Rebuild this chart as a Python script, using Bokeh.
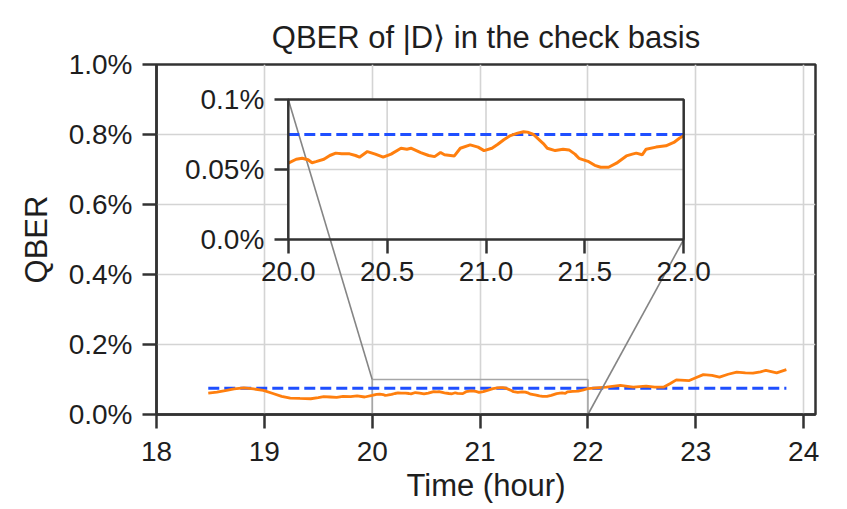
from bokeh.plotting import figure
from bokeh.models import Range1d, LinearAxis, FixedTicker, PrintfTickFormatter
from bokeh.embed import file_html
from bokeh.resources import INLINE

# ---------------- data ----------------
T = [18.48, 18.56, 18.65, 18.72, 18.81, 18.90, 18.99, 19.08, 19.16, 19.24,
     19.33, 19.43, 19.50, 19.55, 19.61, 19.67, 19.73, 19.80, 19.86, 19.93,
     20.00, 20.04, 20.07, 20.10, 20.12, 20.14, 20.18, 20.21, 20.24, 20.27,
     20.31, 20.34, 20.36, 20.40, 20.44, 20.48, 20.52, 20.57, 20.60, 20.62,
     20.67, 20.71, 20.74, 20.77, 20.79, 20.84, 20.87, 20.92, 20.96, 20.99,
     21.03, 21.06, 21.09, 21.12, 21.16, 21.19, 21.21, 21.24, 21.26, 21.29,
     21.31, 21.35, 21.39, 21.42, 21.45, 21.47, 21.52, 21.55, 21.58, 21.62,
     21.66, 21.71, 21.74, 21.76, 21.79, 21.81, 21.86, 21.91, 21.95, 21.98,
     22.00, 22.08, 22.17, 22.30, 22.42, 22.54, 22.62, 22.70, 22.76, 22.82,
     22.94, 23.00, 23.07, 23.15, 23.22, 23.30, 23.38, 23.46, 23.53, 23.60,
     23.65, 23.75, 23.84]
QBER = [0.061, 0.064, 0.069, 0.073, 0.076, 0.073, 0.069, 0.060, 0.052, 0.047,
        0.046, 0.045, 0.048, 0.051, 0.050, 0.049, 0.052, 0.051, 0.053, 0.050,
        0.0545, 0.0573, 0.0580, 0.0570, 0.0548, 0.0556, 0.0573, 0.0600, 0.0617, 0.0612,
        0.0612, 0.0600, 0.0588, 0.0628, 0.0610, 0.0588, 0.0610, 0.0652, 0.0645, 0.0652,
        0.0621, 0.0600, 0.0592, 0.0621, 0.0605, 0.0597, 0.0652, 0.0676, 0.0660, 0.0635,
        0.0652, 0.0680, 0.0712, 0.0740, 0.0760, 0.0770, 0.0767, 0.0750, 0.0724, 0.0685,
        0.0652, 0.0635, 0.0645, 0.0640, 0.0610, 0.0580, 0.0556, 0.0530, 0.0516, 0.0516,
        0.0545, 0.0597, 0.0610, 0.0617, 0.0605, 0.0645, 0.0660, 0.0669, 0.0693, 0.0725,
        0.0741, 0.076, 0.078, 0.083, 0.078, 0.081, 0.078, 0.078, 0.088, 0.099,
        0.097, 0.105, 0.114, 0.112, 0.107, 0.115, 0.121, 0.119, 0.118, 0.122,
        0.126, 0.119, 0.128]
THRESHOLD = 0.075

X_TICKS = [18, 19, 20, 21, 22, 23, 24]
Y_TICKS = [0.0, 0.2, 0.4, 0.6, 0.8, 1.0]
INSET_X_TICKS = [20.0, 20.5, 21.0, 21.5, 22.0]
INSET_Y_TICKS = [0.0, 0.05, 0.1]
INSET_Y_LABELS = ["0.0%", "0.05%", "0.1%"]

TITLE = "QBER of |D\u27e9 in the check basis"
X_LABEL = "Time (hour)"
Y_LABEL = "QBER"

# ---------------- layout / style ----------------
X_RANGE = (18.0, 24.11)
Y_RANGE = (0.0, 1.0)
INSET_XLIM = (20.0, 22.0)
INSET_YLIM = (0.0, 0.1)
INSET_BOUNDS = (0.2, 0.5, 0.6, 0.4)   # axes fraction: x0, y0, w, h

FONT = "Liberation Sans"
TXT = "#1e1e1e"
SPINE = "#333333"
GRID = "#d4d4d4"
ORANGE = "#ff7f0e"
BLUE = "#1f4fff"
GRAY = "#858585"

p = figure(frame_width=659, frame_height=350,
           min_border_left=156, min_border_right=31,
           min_border_top=64, min_border_bottom=94,
           x_range=Range1d(*X_RANGE), y_range=Range1d(*Y_RANGE),
           output_backend="svg", toolbar_location=None, title=TITLE)
p.background_fill_color = "white"
p.border_fill_color = "white"
p.outline_line_color = SPINE
p.outline_line_width = 2.5

p.title.text_font = FONT
p.title.text_font_size = "31px"
p.title.text_font_style = "normal"
p.title.text_color = TXT
p.title.align = "center"
p.title.standoff = 19

def style_axis(ax, ticks):
    ax.ticker = FixedTicker(ticks=ticks)
    ax.axis_line_color = SPINE
    ax.axis_line_width = 2.5
    ax.major_tick_line_color = SPINE
    ax.major_tick_line_width = 2.5
    ax.major_tick_out = 14
    ax.major_tick_in = 0
    ax.minor_tick_line_color = None
    ax.major_label_text_font = FONT
    ax.major_label_text_font_size = "28px"
    ax.major_label_text_color = TXT
    ax.axis_label_text_font = FONT
    ax.axis_label_text_font_size = "31px"
    ax.axis_label_text_font_style = "normal"
    ax.axis_label_text_color = TXT

xax = p.xaxis[0]
yax = p.yaxis[0]
style_axis(xax, X_TICKS)
style_axis(yax, Y_TICKS)
xax.axis_label = X_LABEL
yax.axis_label = Y_LABEL
xax.major_label_standoff = 13
yax.major_label_standoff = 10
xax.axis_label_standoff = 4
yax.axis_label_standoff = 12
yax.formatter = PrintfTickFormatter(format="%.1f%%")

p.xgrid.ticker = FixedTicker(ticks=X_TICKS)
p.ygrid.ticker = FixedTicker(ticks=Y_TICKS)
p.grid.grid_line_color = GRID
p.grid.grid_line_width = 1.6

# inset coordinate system placed inside the main frame
bx, by, bw, bh = INSET_BOUNDS
ixspan = (INSET_XLIM[1] - INSET_XLIM[0]) / bw
iyspan = (INSET_YLIM[1] - INSET_YLIM[0]) / bh
ix_start = INSET_XLIM[0] - bx * ixspan
iy_start = INSET_YLIM[0] - by * iyspan
p.extra_x_ranges = {"ix": Range1d(ix_start, ix_start + ixspan)}
p.extra_y_ranges = {"iy": Range1d(iy_start, iy_start + iyspan)}

def main_x(f):
    return X_RANGE[0] + f * (X_RANGE[1] - X_RANGE[0])

def main_y(f):
    return Y_RANGE[0] + f * (Y_RANGE[1] - Y_RANGE[0])

# zoom indicator rectangle in main axes
p.quad(left=[INSET_XLIM[0]], right=[INSET_XLIM[1]], bottom=[INSET_YLIM[0]], top=[INSET_YLIM[1]],
       fill_color=None, line_color="#a6a6a6", line_width=1.6)

# main data
p.line([T[0], T[-1]], [THRESHOLD, THRESHOLD], line_color=BLUE, line_width=3, line_dash="11 5")
p.line(T, QBER, line_color=ORANGE, line_width=2.8)

# inset background + grid
p.quad(left=[INSET_XLIM[0]], right=[INSET_XLIM[1]], bottom=[INSET_YLIM[0]], top=[INSET_YLIM[1]],
       fill_color="white", line_color=None, x_range_name="ix", y_range_name="iy")
p.segment(x0=INSET_X_TICKS, x1=INSET_X_TICKS,
          y0=[INSET_YLIM[0]] * len(INSET_X_TICKS), y1=[INSET_YLIM[1]] * len(INSET_X_TICKS),
          line_color=GRID, line_width=1.6, x_range_name="ix", y_range_name="iy")
p.segment(x0=[INSET_XLIM[0]] * len(INSET_Y_TICKS), x1=[INSET_XLIM[1]] * len(INSET_Y_TICKS),
          y0=INSET_Y_TICKS, y1=INSET_Y_TICKS,
          line_color=GRID, line_width=1.6, x_range_name="ix", y_range_name="iy")

# connector lines (inset corners -> indicator rectangle corners)
p.segment(x0=[main_x(bx), main_x(bx + bw)], y0=[main_y(by + bh), main_y(by)],
          x1=[INSET_XLIM[0], INSET_XLIM[1]], y1=[INSET_YLIM[1], INSET_YLIM[0]],
          line_color=GRAY, line_width=1.6)

# inset data
iT = [t for t in T if INSET_XLIM[0] <= t <= INSET_XLIM[1]]
iQ = [q for t, q in zip(T, QBER) if INSET_XLIM[0] <= t <= INSET_XLIM[1]]
p.line([INSET_XLIM[0], INSET_XLIM[1]], [THRESHOLD, THRESHOLD], line_color=BLUE, line_width=3,
       line_dash="11 5", x_range_name="ix", y_range_name="iy")
p.line(iT, iQ, line_color=ORANGE, line_width=3, x_range_name="ix", y_range_name="iy")

# inset frame
p.quad(left=[INSET_XLIM[0]], right=[INSET_XLIM[1]], bottom=[INSET_YLIM[0]], top=[INSET_YLIM[1]],
       fill_color=None, line_color=SPINE, line_width=2.5, x_range_name="ix", y_range_name="iy")

# inset axes
ixax = LinearAxis(x_range_name="ix", y_range_name="iy", fixed_location=INSET_YLIM[0])
style_axis(ixax, INSET_X_TICKS)
ixax.axis_line_color = None
ixax.formatter = PrintfTickFormatter(format="%.1f")
ixax.major_label_standoff = 8
p.add_layout(ixax, "below")

iyax = LinearAxis(x_range_name="ix", y_range_name="iy", fixed_location=INSET_XLIM[0])
style_axis(iyax, INSET_Y_TICKS)
iyax.axis_line_color = None
iyax.major_label_overrides = {t: s for t, s in zip(INSET_Y_TICKS, INSET_Y_LABELS)}
iyax.major_label_standoff = 10
p.add_layout(iyax, "left")

open("out.html", "w").write(file_html(p, INLINE))
